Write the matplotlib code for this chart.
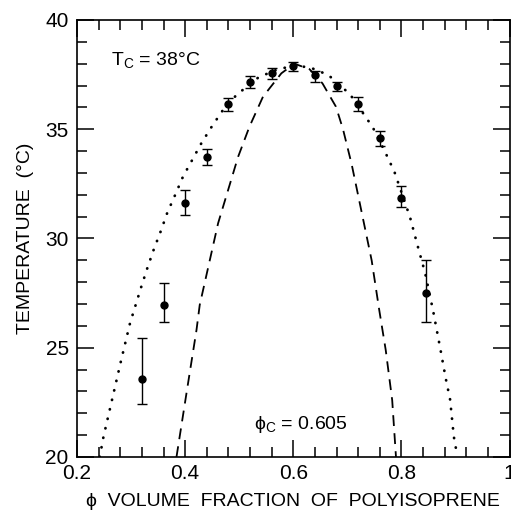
import numpy as np
import matplotlib.pyplot as plt
from matplotlib.ticker import MultipleLocator, FixedLocator

plt.rcParams['font.family'] = ['Liberation Sans', 'DejaVu Sans']
plt.rcParams['mathtext.fontset'] = 'custom'
plt.rcParams['mathtext.rm'] = 'Liberation Sans'

# cloud point data
phi = [0.32, 0.36, 0.40, 0.44, 0.48, 0.52, 0.56, 0.60, 0.64, 0.68, 0.72, 0.76, 0.80, 0.845]
temp = [23.57, 26.96, 31.61, 33.72, 36.14, 37.18, 37.56, 37.90, 37.48, 36.98, 36.14, 34.59, 31.84, 27.49]
err_lo = [1.14, 0.77, 0.53, 0.36, 0.29, 0.28, 0.27, 0.23, 0.30, 0.22, 0.29, 0.34, 0.41, 1.33]
err_hi = [1.88, 1.02, 0.61, 0.36, 0.28, 0.26, 0.26, 0.19, 0.19, 0.20, 0.35, 0.34, 0.58, 1.53]

# binodal (dotted)
bin_phi = [0.242, 0.249, 0.265, 0.281, 0.298, 0.319, 0.330, 0.342, 0.355, 0.367, 0.382,
           0.396, 0.413, 0.430, 0.450, 0.470, 0.495, 0.536, 0.571, 0.600, 0.630, 0.665,
           0.705, 0.747, 0.771, 0.787, 0.816, 0.830, 0.844, 0.859, 0.873, 0.882, 0.890,
           0.897, 0.903]
bin_t = [20.0, 20.93, 22.64, 24.36, 26.12, 27.80, 28.64, 29.50, 30.34, 31.18, 32.02,
         32.83, 33.59, 34.36, 35.15, 35.88, 36.57, 37.38, 37.74, 37.90, 37.84, 37.48,
         36.60, 35.09, 33.90, 33.06, 30.97, 29.67, 28.41, 26.65, 24.82, 23.60, 22.64,
         20.93, 20.10]

# spinodal (dashed)
spin_phi = [0.384, 0.403, 0.421, 0.427, 0.461, 0.498, 0.519, 0.544, 0.578, 0.602, 0.630,
            0.654, 0.679, 0.692, 0.708, 0.724, 0.745, 0.759, 0.771, 0.783, 0.790]
spin_t = [20.0, 23.0, 25.81, 26.96, 30.70, 33.74, 35.12, 36.49, 37.56, 38.0, 37.75,
          37.10, 36.03, 35.00, 33.40, 31.50, 29.00, 26.73, 24.90, 22.60, 20.0]

fig = plt.figure(figsize=(5.11, 5.14), dpi=100)
ax = fig.add_axes([0.1507, 0.1109, 0.8464, 0.8502])

ax.plot(bin_phi, bin_t, color='black', lw=2.0, linestyle=(0, (0.1, 3.4)),
        dash_capstyle='round')
ax.plot(spin_phi, spin_t, color='black', lw=1.3, linestyle=(0, (6, 4)))
ax.errorbar(phi, temp, yerr=[err_lo, err_hi], fmt='o', color='black', ms=5,
            elinewidth=1.0, capsize=3.5, capthick=1.0)

ax.set_xlim(0.2, 1.0)
ax.set_ylim(20, 40)
ax.xaxis.set_major_locator(FixedLocator([0.2, 0.4, 0.6, 0.8, 1.0]))
ax.set_xticklabels(['0.2', '0.4', '0.6', '0.8', '1'])
ax.xaxis.set_minor_locator(MultipleLocator(0.04))
ax.yaxis.set_major_locator(MultipleLocator(5))
ax.yaxis.set_minor_locator(MultipleLocator(1))
ax.tick_params(which='both', direction='in', top=True, right=True, width=1.1,
               labelsize=15)
ax.tick_params(which='major', length=12)
ax.tick_params(which='minor', length=7)
ax.tick_params(axis='x', pad=5)
ax.tick_params(axis='y', pad=6)
for s in ax.spines.values():
    s.set_linewidth(1.2)

ax.set_xlabel('ϕ  VOLUME  FRACTION  OF  POLYISOPRENE', fontsize=14, labelpad=7)
ax.set_ylabel('TEMPERATURE  (°C)', fontsize=14, labelpad=8)

ax.text(0.262, 37.9, r'T$_\mathregular{C}$ = 38°C', fontsize=14, va='baseline')
ax.text(0.528, 21.3, r'ϕ$_\mathregular{C}$ = 0.605', fontsize=14, va='baseline')

fig.savefig('out.png', dpi=100)
